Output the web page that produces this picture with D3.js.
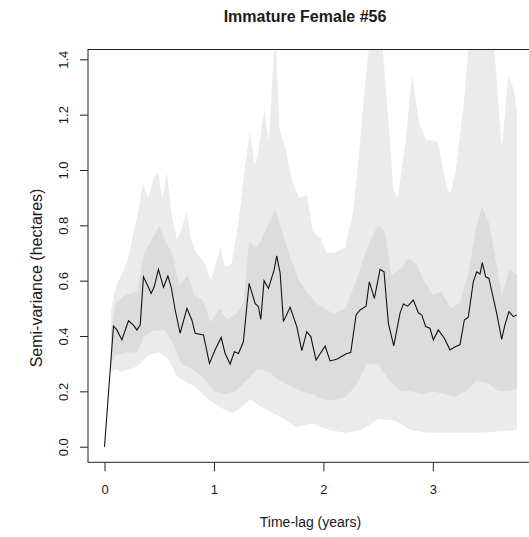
<!DOCTYPE html>
<html><head><meta charset="utf-8">
<script src="https://cdn.jsdelivr.net/npm/d3@7"></script>
<style>
body{margin:0;background:#fff}
svg{display:block}
text{font-family:"Liberation Sans",Arial,sans-serif;fill:#1a1a1a}
</style>
</head><body>
<svg id="chart" width="529" height="537"></svg>
<script>
// ---- data ----
const title = "Immature Female #56";
const xLabel = "Time-lag (years)";
const yLabel = "Semi-variance (hectares)";
const xTicks = [0, 1, 2, 3];
const yTicks = [0, 0.2, 0.4, 0.6, 0.8, 1.0, 1.2, 1.4];

// empirical semi-variance line
const lag = [0, 0.082, 0.113, 0.159, 0.219, 0.262, 0.296, 0.326, 0.356, 0.402, 0.426, 0.454, 0.493, 0.539, 0.579, 0.609,
  0.646, 0.691, 0.753, 0.798, 0.828, 0.904, 0.959, 1.011, 1.066, 1.102, 1.148, 1.187, 1.224, 1.269, 1.321, 1.376,
  1.406, 1.428, 1.458, 1.498, 1.55, 1.574, 1.605, 1.635, 1.696, 1.757, 1.803, 1.848, 1.885, 1.933, 2.016, 2.061,
  2.122, 2.214, 2.25, 2.299, 2.335, 2.39, 2.42, 2.466, 2.518, 2.554, 2.594, 2.643, 2.70, 2.731, 2.771, 2.822,
  2.868, 2.899, 2.935, 2.974, 3.005, 3.05, 3.105, 3.157, 3.203, 3.248, 3.288, 3.324, 3.37, 3.401, 3.431, 3.452,
  3.483, 3.513, 3.543, 3.584, 3.629, 3.659, 3.696, 3.735, 3.766];
const semivar = [0, 0.436, 0.422, 0.386, 0.455, 0.44, 0.422, 0.44, 0.614, 0.576, 0.554, 0.578, 0.641, 0.576, 0.617, 0.578,
  0.494, 0.41, 0.50, 0.458, 0.41, 0.404, 0.301, 0.35, 0.395, 0.337, 0.299, 0.343, 0.337, 0.379, 0.59, 0.518,
  0.506, 0.46, 0.60, 0.572, 0.639, 0.69, 0.627, 0.452, 0.504, 0.434, 0.347, 0.416, 0.398, 0.313, 0.364, 0.31,
  0.316, 0.337, 0.34, 0.476, 0.494, 0.508, 0.596, 0.536, 0.641, 0.632, 0.446, 0.364, 0.482, 0.516, 0.508, 0.53,
  0.484, 0.476, 0.434, 0.428, 0.386, 0.422, 0.392, 0.35, 0.361, 0.368, 0.458, 0.468, 0.596, 0.632, 0.624, 0.665,
  0.614, 0.608, 0.554, 0.482, 0.388, 0.44, 0.488, 0.47, 0.476];

// 95% band, upper edge
const hi95Lag = [0.06, 0.10, 0.15, 0.21, 0.28, 0.31, 0.35, 0.40, 0.45, 0.49, 0.53, 0.57, 0.61, 0.66, 0.70, 0.75, 0.79,
  0.84, 0.92, 0.97, 1.03, 1.06, 1.10, 1.16, 1.22, 1.28, 1.33, 1.37, 1.40, 1.46, 1.50, 1.56, 1.60, 1.66, 1.72, 1.78,
  1.85, 1.90, 1.98, 2.03, 2.10, 2.20, 2.27, 2.31, 2.38, 2.43, 2.53, 2.59, 2.64, 2.68, 2.75, 2.81, 2.88, 2.94, 3.05,
  3.13, 3.16, 3.21, 3.28, 3.34, 3.55, 3.63, 3.69, 3.74, 3.77];
const hi95 = [0.50, 0.57, 0.62, 0.67, 0.80, 0.85, 0.95, 0.90, 0.97, 0.99, 0.90, 0.99, 0.85, 0.75, 0.78, 0.85, 0.75,
  0.70, 0.66, 0.60, 0.68, 0.72, 0.65, 0.66, 0.80, 1.00, 1.14, 1.02, 1.05, 1.22, 1.10, 1.50, 1.15, 1.07, 0.95, 0.90,
  0.91, 0.78, 0.75, 0.70, 0.70, 0.72, 0.85, 0.99, 1.30, 1.50, 1.50, 1.20, 0.93, 0.90, 1.10, 1.34, 1.16, 1.11, 1.10,
  0.93, 0.915, 1.00, 1.23, 1.50, 1.50, 1.08, 1.34, 1.29, 1.20];
// 95% band, lower edge
const lo95Lag = [0.06, 0.10, 0.16, 0.22, 0.30, 0.40, 0.50, 0.58, 0.65, 0.75, 0.82, 0.95, 1.07, 1.17, 1.24, 1.33, 1.45,
  1.60, 1.75, 1.90, 2.05, 2.20, 2.35, 2.50, 2.65, 2.80, 2.95, 3.20, 3.40, 3.60, 3.77];
const lo95 = [0.27, 0.28, 0.27, 0.28, 0.29, 0.33, 0.34, 0.32, 0.26, 0.23, 0.22, 0.17, 0.14, 0.12, 0.14, 0.17, 0.14,
  0.11, 0.07, 0.085, 0.06, 0.05, 0.06, 0.10, 0.095, 0.06, 0.05, 0.05, 0.05, 0.055, 0.06];

// 50% band
const hi50Lag = [0.06, 0.10, 0.20, 0.30, 0.36, 0.45, 0.50, 0.56, 0.62, 0.68, 0.76, 0.82, 0.90, 0.97, 1.05, 1.12, 1.20,
  1.27, 1.32, 1.40, 1.47, 1.56, 1.62, 1.70, 1.78, 1.85, 1.93, 2.00, 2.10, 2.20, 2.28, 2.35, 2.42, 2.50, 2.56, 2.62,
  2.70, 2.78, 2.85, 2.92, 3.00, 3.08, 3.16, 3.25, 3.32, 3.40, 3.45, 3.52, 3.58, 3.63, 3.70, 3.77];
const hi50 = [0.42, 0.52, 0.55, 0.56, 0.70, 0.76, 0.80, 0.74, 0.70, 0.58, 0.62, 0.55, 0.53, 0.45, 0.50, 0.46, 0.48,
  0.52, 0.74, 0.72, 0.78, 0.86, 0.78, 0.68, 0.60, 0.56, 0.52, 0.50, 0.48, 0.50, 0.58, 0.66, 0.74, 0.80, 0.78, 0.62,
  0.64, 0.68, 0.66, 0.60, 0.55, 0.56, 0.50, 0.52, 0.62, 0.80, 0.87, 0.80, 0.66, 0.55, 0.64, 0.62];
const lo50Lag = [0.06, 0.10, 0.20, 0.30, 0.36, 0.45, 0.55, 0.62, 0.70, 0.80, 0.90, 1.00, 1.10, 1.20, 1.30, 1.40, 1.50,
  1.60, 1.70, 1.80, 1.90, 2.00, 2.10, 2.20, 2.30, 2.40, 2.50, 2.60, 2.70, 2.80, 2.90, 3.00, 3.10, 3.20, 3.30, 3.40,
  3.50, 3.60, 3.70, 3.77];
const lo50 = [0.30, 0.33, 0.34, 0.34, 0.40, 0.42, 0.42, 0.38, 0.30, 0.28, 0.25, 0.20, 0.19, 0.20, 0.24, 0.28, 0.27,
  0.24, 0.22, 0.20, 0.19, 0.17, 0.17, 0.18, 0.22, 0.30, 0.30, 0.24, 0.20, 0.20, 0.19, 0.20, 0.19, 0.18, 0.20, 0.24,
  0.23, 0.20, 0.20, 0.21];

// ---- layout ----
const svg = d3.select("#chart");
const box = {left: 88, right: 533.5, top: 49.5, bottom: 462.3};
const x = d3.scaleLinear().domain([-0.1508, 3.92]).range([box.left, box.right]);
const y = d3.scaleLinear().domain([-0.0564, 1.4355]).range([box.bottom, box.top]);

svg.append("defs").append("clipPath").attr("id", "clip")
  .append("rect").attr("x", box.left).attr("y", box.top)
  .attr("width", box.right - box.left).attr("height", box.bottom - box.top);

const plot = svg.append("g").attr("clip-path", "url(#clip)");
const line = d3.line().x(d => x(d[0])).y(d => y(d[1]));

function band(hiL, hiV, loL, loV) {
  const up = hiL.map((t, i) => [t, hiV[i]]);
  const dn = loL.map((t, i) => [t, loV[i]]).reverse();
  return line(up.concat(dn)) + "Z";
}

plot.append("path").attr("d", band(hi95Lag, hi95, lo95Lag, lo95))
  .attr("fill", "#ebebeb").attr("stroke", "none");
plot.append("path").attr("d", band(hi50Lag, hi50, lo50Lag, lo50))
  .attr("fill", "#dcdcdc").attr("stroke", "none");
plot.append("path").attr("d", line(lag.map((t, i) => [t, semivar[i]])))
  .attr("fill", "none").attr("stroke", "#111").attr("stroke-width", 1.1);

// axes
const yAxis = svg.append("g").attr("transform", `translate(${box.left},0)`)
  .call(d3.axisLeft(y).tickValues(yTicks).tickSize(8).tickFormat(d3.format(".1f")));
yAxis.select(".domain").remove();
yAxis.selectAll(".tick line").attr("stroke", "#222");
yAxis.selectAll(".tick text")
  .attr("x", null).attr("dy", null).attr("text-anchor", "middle")
  .attr("transform", "translate(-20,0) rotate(-90)")
  .style("font-size", "13px").style("font-family", "'Liberation Sans',Arial,sans-serif").attr("fill", "#222");

const xAxis = svg.append("g").attr("transform", `translate(0,${box.bottom})`)
  .call(d3.axisBottom(x).tickValues(xTicks).tickSize(9).tickFormat(d3.format("d")));
xAxis.select(".domain").remove();
xAxis.selectAll(".tick line").attr("stroke", "#222");
xAxis.selectAll(".tick text").attr("y", 22).attr("dy", "0.71em")
  .style("font-size", "13px").style("font-family", "'Liberation Sans',Arial,sans-serif").attr("fill", "#222");

// box
svg.append("rect").attr("x", box.left).attr("y", box.top)
  .attr("width", box.right - box.left).attr("height", box.bottom - box.top)
  .attr("fill", "none").attr("stroke", "#222").attr("stroke-width", 1);

// titles
svg.append("text").attr("x", 305).attr("y", 22).attr("text-anchor", "middle")
  .style("font-size", "16px").style("font-weight", "bold").text(title);
svg.append("text").attr("x", 310.5).attr("y", 527).attr("text-anchor", "middle")
  .style("font-size", "14px").attr("fill", "#222").text(xLabel);
svg.append("text").attr("transform", "translate(42,278) rotate(-90)").attr("text-anchor", "middle")
  .style("font-size", "16px").attr("fill", "#222").text(yLabel);
</script>
</body></html>
